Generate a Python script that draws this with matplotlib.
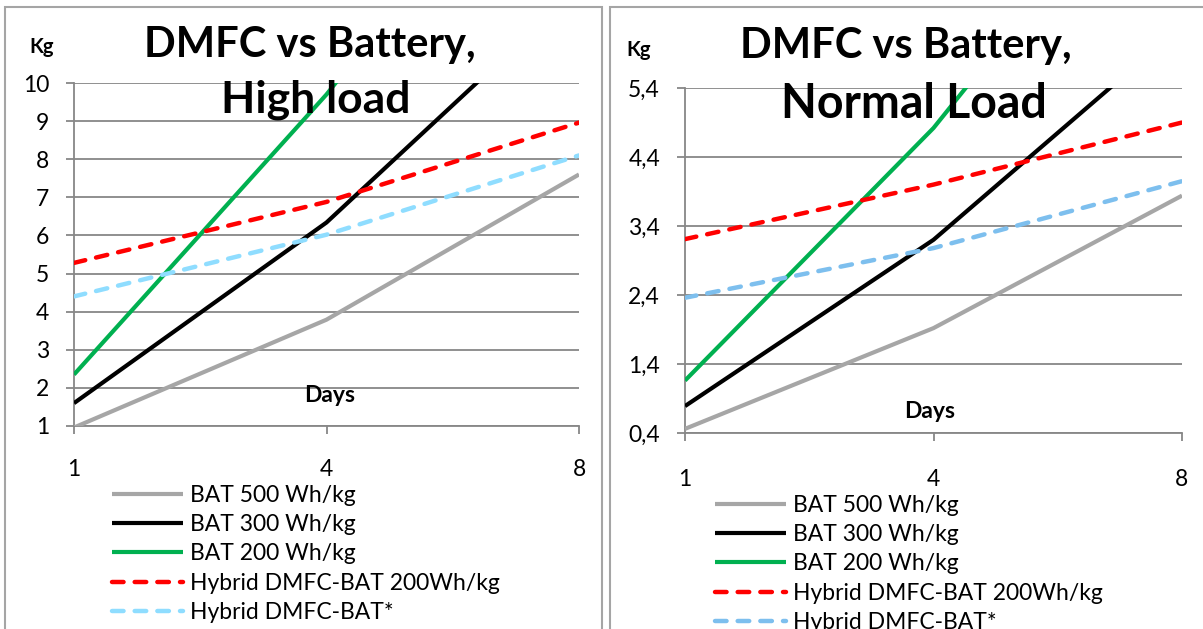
import matplotlib
matplotlib.use("Agg")
import matplotlib.pyplot as plt
from matplotlib.patches import Rectangle

plt.rcParams['font.family'] = ['Lato', 'DejaVu Sans']

W, H = 1203, 629
DPI = 100

# Day categories (evenly spaced on the x axis)
days = ["1", "4", "8"]

# High load panel (kg)
high_bat500 = [0.96, 3.79, 7.60]
high_bat300 = [1.60, 6.34, 12.5]
high_bat200 = [2.35, 9.70, 18.0]
high_hyb200 = [5.28, 6.88, 8.96]
high_hybstar = [4.40, 6.02, 8.10]
high_yticks = [1, 2, 3, 4, 5, 6, 7, 8, 9, 10]
high_ylabels = ["1", "2", "3", "4", "5", "6", "7", "8", "9", "10"]

# Normal load panel (kg)
norm_bat500 = [0.46, 1.92, 3.84]
norm_bat300 = [0.79, 3.20, 6.30]
norm_bat200 = [1.16, 4.82, 9.30]
norm_hyb200 = [3.21, 4.00, 4.90]
norm_hybstar = [2.36, 3.08, 4.05]
norm_yticks = [0.4, 1.4, 2.4, 3.4, 4.4, 5.4]
norm_ylabels = ["0,4", "1,4", "2,4", "3,4", "4,4", "5,4"]

labels = ["BAT 500 Wh/kg", "BAT 300 Wh/kg", "BAT 200 Wh/kg",
          "Hybrid DMFC-BAT 200Wh/kg", "Hybrid DMFC-BAT*"]

GRAY = "#A6A6A6"
GREEN = "#00B050"
RED = "#FF0000"
GRID = "#878787"
FRAME = "#A5A5A5"

fig = plt.figure(figsize=(W / DPI, H / DPI), dpi=DPI)


def fx(x):
    return x / W


def fy(y):
    return 1 - y / H


def add_axes_px(x0, y0, x1, y1):
    return fig.add_axes([fx(x0), fy(y1), (x1 - x0) / W, (y1 - y0) / H])


# Chart frames
fig.add_artist(Rectangle((fx(5), fy(700)), (602 - 5) / W, (700 - 7) / H,
                         transform=fig.transFigure, fill=False,
                         edgecolor=FRAME, lw=1.5))
fig.add_artist(Rectangle((fx(610), fy(700)), (1260 - 610) / W, (700 - 7) / H,
                         transform=fig.transFigure, fill=False,
                         edgecolor=FRAME, lw=1.5))


def draw_panel(box, series, blue, yticks, ylabels, ylim,
               title1, title2, t2size, t1xy, t2xy, kgxy, daysxy, leg_xy,
               xlab_pad):
    ax = add_axes_px(*box)
    x = list(range(len(days)))
    colors = [GRAY, "black", GREEN, RED, blue]
    for i, (vals, c) in enumerate(zip(series, colors)):
        if i < 3:
            ax.plot(x, vals, color=c, lw=3.0, solid_capstyle="butt",
                    solid_joinstyle="round", label=labels[i], zorder=3)
        else:
            ax.plot(x, vals, color=c, lw=3.2, linestyle=(0, (2.6, 2.5)),
                    dash_capstyle="round", label=labels[i], zorder=3)
    ax.set_xlim(0, 2)
    ax.set_ylim(*ylim)
    ax.set_xticks(x)
    ax.set_xticklabels(days)
    ax.set_yticks(yticks)
    ax.set_yticklabels(ylabels)
    for s in ("top", "right"):
        ax.spines[s].set_visible(False)
    for s in ("left", "bottom"):
        ax.spines[s].set_color(GRID)
        ax.spines[s].set_linewidth(1.3)
    ax.yaxis.grid(True, color=GRID, lw=1.3)
    ax.set_axisbelow(True)
    ax.tick_params(axis="y", length=6, width=1.3, color=GRID, pad=12,
                   labelsize=16.5)
    ax.tick_params(axis="x", length=6, width=1.3, color=GRID, pad=xlab_pad,
                   labelsize=16.5)
    ax.patch.set_alpha(0)

    fig.text(fx(t1xy[0]), fy(t1xy[1]), title1, ha="center", va="baseline",
             fontsize=30, fontweight="bold")
    fig.text(fx(t2xy[0]), fy(t2xy[1]), title2, ha="center", va="baseline",
             fontsize=t2size, fontweight="bold", zorder=5)
    fig.text(fx(kgxy[0]), fy(kgxy[1]), "Kg", ha="center", va="center",
             fontsize=14.5, fontweight="bold")
    fig.text(fx(daysxy[0]), fy(daysxy[1]), "Days", ha="center", va="center",
             fontsize=16.5, fontweight="bold")

    ax.legend(loc="upper left", bbox_to_anchor=(fx(leg_xy[0]), fy(leg_xy[1])),
              bbox_transform=fig.transFigure, frameon=False, fontsize=16.5,
              handlelength=3.1, handletextpad=0.3, labelspacing=0.36,
              borderpad=0, borderaxespad=0)
    return ax


draw_panel((74, 83, 579, 426),
           [high_bat500, high_bat300, high_bat200, high_hyb200, high_hybstar],
           "#8FDDFF", high_yticks, high_ylabels, (1, 10),
           "DMFC vs Battery,", "High load", 32, (310, 57), (316, 113),
           (42, 47), (330, 396), (112, 485), 18)

draw_panel((685, 88, 1182, 433),
           [norm_bat500, norm_bat300, norm_bat200, norm_hyb200, norm_hybstar],
           "#7DBFEE", norm_yticks, norm_ylabels, (0.4, 5.4),
           "DMFC vs Battery,", "Normal Load", 33.5, (906, 58), (914, 118),
           (639, 50), (930, 411), (715, 495), 20)

fig.savefig("out.png", dpi=DPI)
